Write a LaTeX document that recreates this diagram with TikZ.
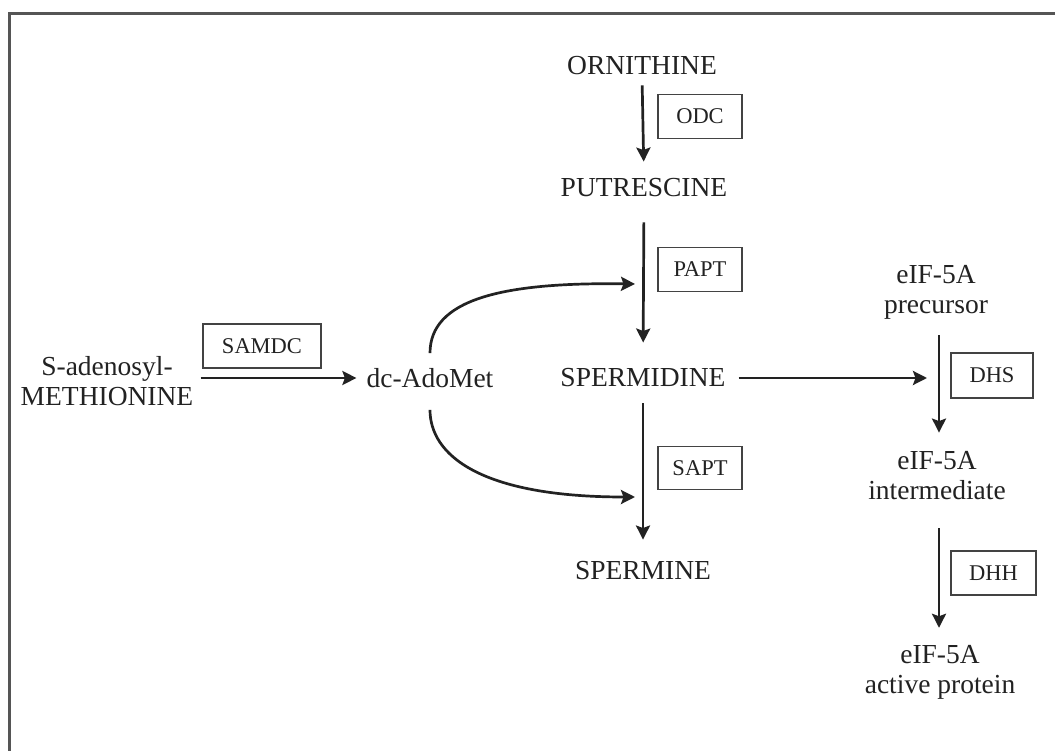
\documentclass[tikz,border=0pt]{standalone}
\usepackage{fontspec}
\setmainfont{Liberation Serif}
\usetikzlibrary{arrows.meta}
\definecolor{ink}{HTML}{222222}
\definecolor{frame}{HTML}{555555}
\tikzset{
  lbl/.style={inner sep=0pt, text=ink, align=center, font=\fontsize{27.5}{30}\selectfont},
  enz/.style={draw=ink!85, line width=1.8pt, inner sep=0pt, text=ink, font=\fontsize{22.5}{24}\selectfont},
  arr/.style={draw=ink, line width=2.7pt, -{Stealth[length=14pt,width=14pt,inset=2.5pt]}},
}
\begin{document}
\begin{tikzpicture}[x=1pt,y=-1pt]
\useasboundingbox (0,0) rectangle (1055,751);
\fill[white] (0,0) rectangle (1055,751);
\draw[frame, line width=3pt] (1060,14) -- (9,14) -- (9,760);

% metabolites
\node[lbl] (orn) at (642,66) {ORNITHINE};
\node[lbl] (put) at (644,188) {PUTRESCINE};
\node[lbl] (spd) at (643,378) {SPERMIDINE};
\node[lbl] (spm) at (643,571) {SPERMINE};
\node[lbl] (dc)  at (430,378) {dc-AdoMet};
\node[lbl] (sam) at (107,381.5) {S-adenosyl-\\METHIONINE};
\node[lbl] (pre) at (936,292) {eIF-5A\\precursor};
\node[lbl] (int) at (937,476) {eIF-5A\\intermediate};
\node[lbl] (act) at (940,672) {eIF-5A\\active protein};

% enzymes
\node[enz, minimum width=84pt, minimum height=44pt] (odc) at (700,116.5) {ODC};
\node[enz, minimum width=84pt, minimum height=44pt] (papt) at (700,269.5) {PAPT};
\node[enz, minimum width=84pt, minimum height=43pt] (sapt) at (700,468) {SAPT};
\node[enz, minimum width=118pt, minimum height=44pt] (samdc) at (262,346) {SAMDC};
\node[enz, minimum width=82pt, minimum height=45pt] (dhs) at (992,375.5) {DHS};
\node[enz, minimum width=85pt, minimum height=44pt] (dhh) at (993.5,573) {DHH};

% junction points
\coordinate (j) at (939,377);
\coordinate (pin) at (643,284);
\coordinate (sin) at (643,497);

% arrows
\draw[arr, shorten <=10pt, shorten >=17pt] (orn.south) -- (put.north);
\draw[arr, shorten <=25pt, shorten >=26pt] (put.south) -- (spd.north);
\draw[arr, shorten <=16pt, shorten >=22pt] (spd.south) -- (spm.north);
\draw[arr, shorten <=7pt, shorten >=10pt] (sam.east |- dc.west) -- (dc.west);
\draw[arr, shorten <=13pt, shorten >=12pt] (spd.east) -- (spd.east -| j);
\draw[arr, shorten <=16pt, shorten >=19pt] (pre.south -| j) -- (int.north -| j);
\draw[arr, shorten <=28pt, shorten >=17pt] (int.south -| j) -- (act.north -| j);
\draw[arr] ([yshift=15pt]dc.north) .. controls +(0,-53) and +(-135,-2) .. ([xshift=-8pt]pin);
\draw[arr] ([yshift=-22pt]dc.south) .. controls +(0,45) and +(-155,0) .. ([xshift=-8pt]sin);
\end{tikzpicture}
\end{document}
